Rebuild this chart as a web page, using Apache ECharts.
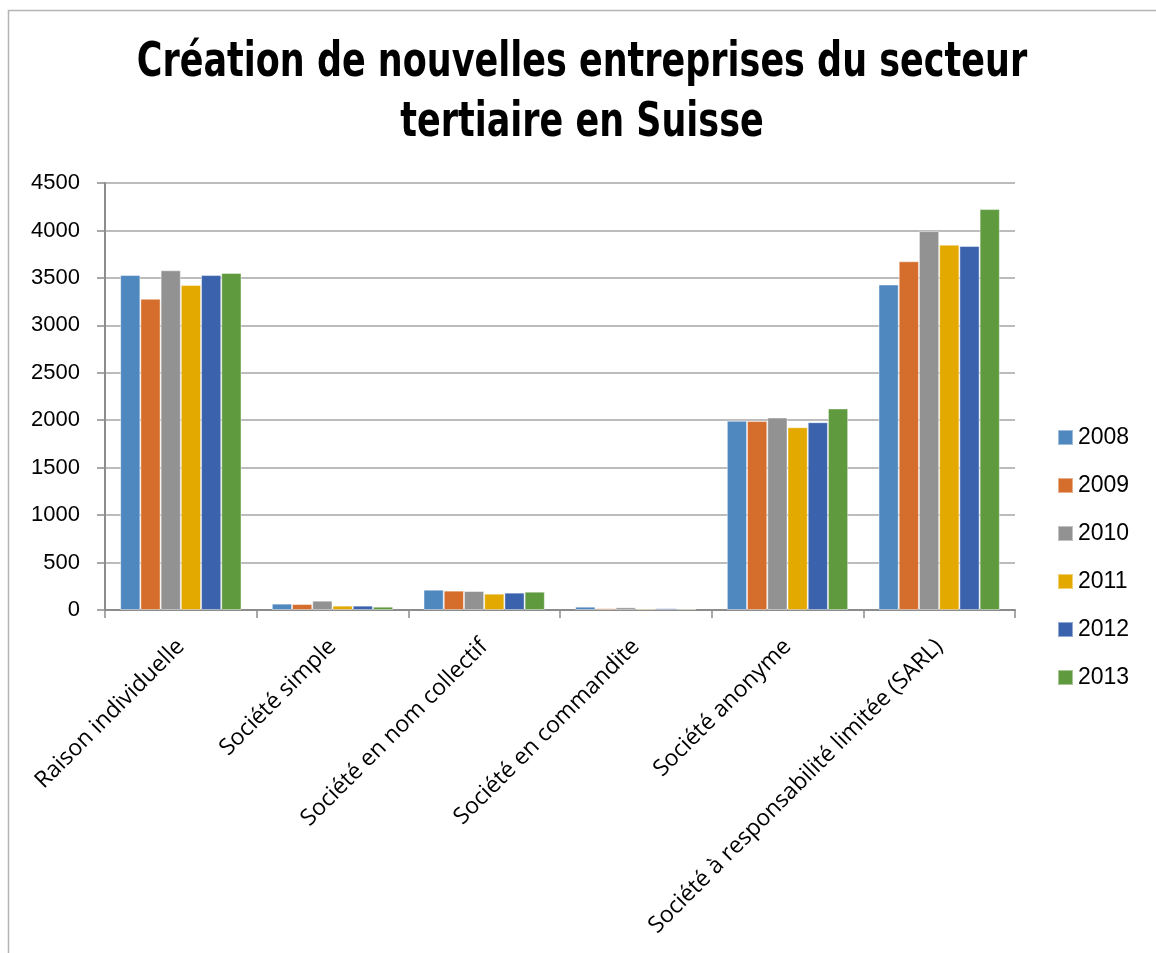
<!DOCTYPE html>
<html>
<head>
<meta charset="utf-8">
<script src="https://cdn.jsdelivr.net/npm/echarts@6/dist/echarts.min.js"></script>
<style>
html,body{margin:0;padding:0;background:#fff;}
#chart{width:1156px;height:953px;}
</style>
</head>
<body>
<div id="chart"></div>
<script>
const categories = [
  "Raison individuelle",
  "Société simple",
  "Société en nom collectif",
  "Société en commandite",
  "Société anonyme",
  "Société à responsabilité limitée (SARL)"
];
const years = ["2008", "2009", "2010", "2011", "2012", "2013"];
const v2008 = [3530, 67, 214, 35, 1995, 3430];
const v2009 = [3280, 63, 204, 18, 1993, 3675];
const v2010 = [3580, 98, 200, 28, 2028, 3993];
const v2011 = [3425, 46, 172, 15, 1926, 3850];
const v2012 = [3530, 46, 183, 18, 1979, 3836];
const v2013 = [3552, 35, 193, 14, 2124, 4225];
const yTicks = [0, 500, 1000, 1500, 2000, 2500, 3000, 3500, 4000, 4500];
const titleLines = ['Création de nouvelles entreprises du secteur', 'tertiaire en Suisse'];

const seriesValues = [v2008, v2009, v2010, v2011, v2012, v2013];
const colors = ["#4f88bf", "#d56e2c", "#929292", "#e3a900", "#3b63ad", "#5f9a3f"];

const titleFont = 'bold 48px "DejaVu Sans Condensed", "Liberation Sans Narrow", sans-serif';

const chart = echarts.init(document.getElementById('chart'), null, {renderer: 'canvas'});
chart.setOption({
  animation: false,
  backgroundColor: '#ffffff',
  color: colors,
  graphic: [{
    type: 'rect',
    shape: {x: 8.5, y: 10.5, width: 1200, height: 1000},
    style: {fill: 'none', stroke: '#b4b4b4', lineWidth: 1.5},
    silent: true
  }].concat(titleLines.map(function (t, i) {
    return {
      type: 'text',
      x: 582,
      y: 64 + i * 60,
      scaleX: 0.81,
      silent: true,
      style: {
        text: t,
        font: titleFont,
        fill: '#000',
        align: 'center',
        verticalAlign: 'middle'
      }
    };
  })),
  legend: {
    orient: 'vertical',
    left: 1052,
    top: 421,
    itemWidth: 15,
    itemHeight: 15,
    itemGap: 25,
    icon: 'rect',
    textStyle: {fontFamily: '"Liberation Sans", Arial, sans-serif', fontSize: 23, color: '#000', padding: [0, 0, 0, 0]},
    data: years
  },
  grid: {left: 105, right: 141, top: 183, bottom: 343, containLabel: false},
  xAxis: {
    type: 'category',
    data: categories,
    axisLine: {lineStyle: {color: '#8c8c8c', width: 2}},
    axisTick: {show: true, length: 8, lineStyle: {color: '#8c8c8c', width: 1.5}},
    axisLabel: {
      rotate: 45,
      interval: 0,
      margin: 33,
      fontFamily: '"Open Sans", sans-serif',
      fontSize: 23,
      color: '#000'
    }
  },
  yAxis: {
    type: 'value',
    min: 0,
    max: 4500,
    interval: 500,
    axisLine: {show: true, lineStyle: {color: '#8c8c8c', width: 2}},
    axisTick: {show: true, length: 8, lineStyle: {color: '#8c8c8c', width: 1.5}},
    splitLine: {lineStyle: {color: '#a6a6a6', width: 1.5}},
    axisLabel: {
      margin: 25,
      fontFamily: '"Liberation Sans", Arial, sans-serif',
      fontSize: 22,
      color: '#000',
      formatter: function (v) { return yTicks.indexOf(v) >= 0 ? String(v) : ''; }
    }
  },
  series: years.map(function (y, i) {
    return {
      name: y,
      type: 'bar',
      data: seriesValues[i],
      barGap: '0%',
      barCategoryGap: '20%',
      itemStyle: {borderColor: 'rgba(255,255,255,0.45)', borderWidth: 1}
    };
  })
});
</script>
</body>
</html>
